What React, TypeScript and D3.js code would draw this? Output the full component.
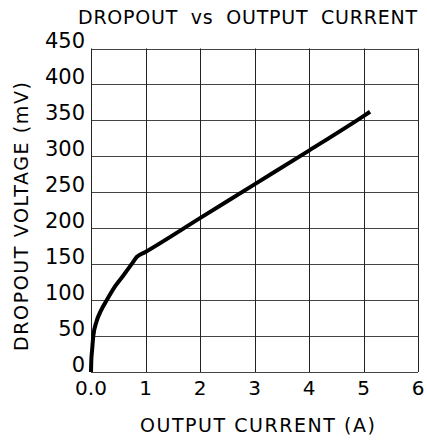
import React from "react";
import * as d3 from "d3";

// dropout voltage (mV) vs output current (A)
const currentA = [0, 0.005, 0.02, 0.042, 0.1, 0.18, 0.29, 0.45, 0.6, 0.745, 0.84, 1, 2, 3, 4, 5, 5.12];
const dropoutMv = [0, 15, 30, 50, 70, 85, 100, 120, 135, 150, 160, 167, 214, 261, 308, 356, 362];

const xTicks = [0, 1, 2, 3, 4, 5, 6];
const xTickLabels = ["0.0", "1", "2", "3", "4", "5", "6"];
const yTicks = [0, 50, 100, 150, 200, 250, 300, 350, 400, 450];

const W = 427;
const H = 442;
const font = "DejaVu Sans, sans-serif";

export default function App() {
  const x = d3.scaleLinear().domain([0, 6]).range([91, 418]);
  const y = d3.scaleLinear().domain([0, 450]).range([372, 48.5]);

  const pts = currentA.map((c, i) => [c, dropoutMv[i]] as [number, number]);
  const line = d3
    .line<[number, number]>()
    .x((d) => x(d[0]))
    .y((d) => y(d[1]))
    .curve(d3.curveMonotoneX);

  return (
    <svg
      width={W}
      height={H}
      style={{ position: "absolute", left: 0, top: 0, background: "#fff" }}
    >
      <text
        x={78}
        y={24}
        fontFamily={font}
        fontSize={19}
        textLength={339}
        lengthAdjust="spacing"
        wordSpacing={6}
      >
        DROPOUT vs OUTPUT CURRENT
      </text>

      {/* grid */}
      {yTicks.map((t) => (
        <line
          key={"h" + t}
          x1={x(0)}
          x2={x(6)}
          y1={Math.round(y(t)) + 0.5}
          y2={Math.round(y(t)) + 0.5}
          stroke="#444"
          strokeWidth={1}
        />
      ))}
      {xTicks.map((t) => (
        <line
          key={"v" + t}
          x1={Math.round(x(t)) + 0.5}
          x2={Math.round(x(t)) + 0.5}
          y1={y(450)}
          y2={y(0)}
          stroke="#222"
          strokeWidth={1}
        />
      ))}

      {/* tick labels */}
      {yTicks.map((t) => (
        <text
          key={"yl" + t}
          x={85}
          y={y(t) - 0.5}
          textAnchor="end"
          fontFamily={font}
          fontSize={21}
        >
          {t}
        </text>
      ))}
      {xTicks.map((t, i) => (
        <text
          key={"xl" + t}
          x={x(t)}
          y={395}
          textAnchor="middle"
          fontFamily={font}
          fontSize={20}
        >
          {xTickLabels[i]}
        </text>
      ))}

      <text
        x={257.5}
        y={432}
        textAnchor="middle"
        fontFamily={font}
        fontSize={19}
        textLength={235}
        lengthAdjust="spacing"
      >
        OUTPUT CURRENT (A)
      </text>
      <text
        transform="translate(28,216.5) rotate(-90)"
        textAnchor="middle"
        fontFamily={font}
        fontSize={19}
        textLength={269}
        lengthAdjust="spacing"
      >
        DROPOUT VOLTAGE (mV)
      </text>

      <path
        d={line(pts) || ""}
        fill="none"
        stroke="#000"
        strokeWidth={4}
        strokeLinejoin="round"
      />
    </svg>
  );
}
